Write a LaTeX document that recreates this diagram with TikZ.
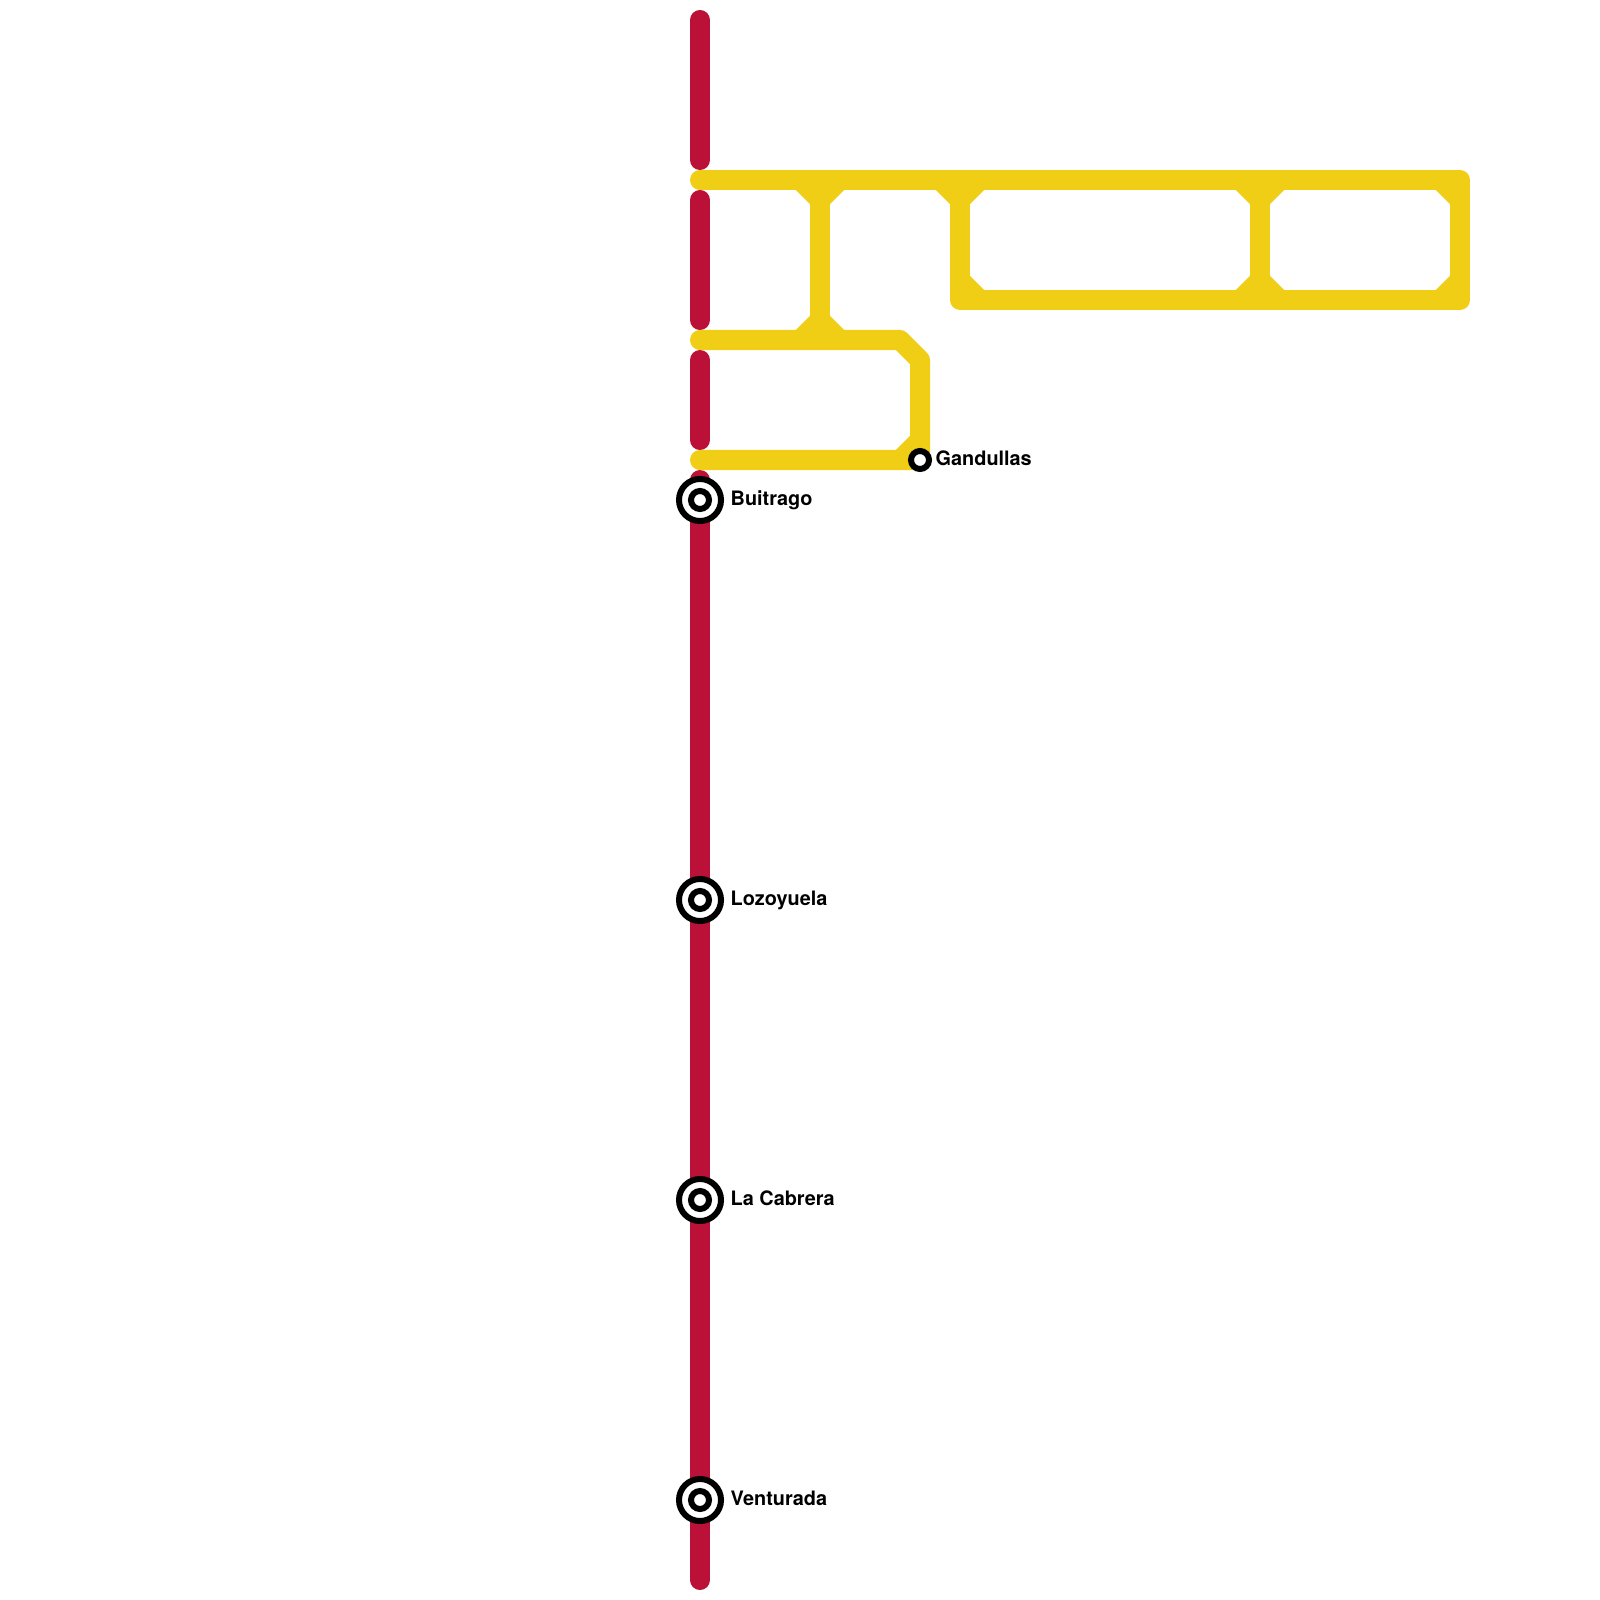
\documentclass[tikz,border=0pt]{standalone}
\usepackage{fontspec}
\setmainfont{TeX Gyre Heros}
\definecolor{linered}{HTML}{BB1037}
\definecolor{lineyellow}{HTML}{F0CE15}
\tikzset{
	redline/.style={line width=0.2cm, linered, line cap=round},
	yellowline/.style={line width=0.2cm, lineyellow, line cap=round, line join=round},
	stopring/.style={circle, draw=black, fill=white, line width=0.06cm, inner sep=0pt},
	bigstop/.style={stopring, minimum size=0.42cm},
	smallstop/.style={stopring, minimum size=0.18cm},
	stoplabel/.style={anchor=base west, inner sep=0pt, font=\bfseries\fontsize{5.65pt}{6pt}\selectfont}
}
\begin{document}
\begin{tikzpicture}[x=0.01cm, y=-0.01cm]
	\useasboundingbox (0,0) rectangle (1600,1600);
	% 红线
	\draw[redline] (700,20) -- (700,160);
	\draw[redline] (700,200) -- (700,320);
	\draw[redline] (700,360) -- (700,440);
	\draw[redline] (700,480) -- (700,1580);

	% 黄线
	\draw[yellowline] (700,180) -- (1460,180) -- (1460,300) -- (960,300) -- (960,180);
	\draw[yellowline] (820,180) -- (820,340);
	\draw[yellowline] (1260,180) -- (1260,300);
	\draw[yellowline] (700,340) -- (900,340) -- (920,360) -- (920,460) -- (700,460);

	% 斜角
	\draw[yellowline] (800,180) -- (820,200) -- (840,180);
	\draw[yellowline] (800,340) -- (820,320) -- (840,340);
	\draw[yellowline] (940,180) -- (960,200) -- (980,180);
	\draw[yellowline] (960,280) -- (980,300);
	\draw[yellowline] (1240,180) -- (1260,200) -- (1280,180);
	\draw[yellowline] (1240,300) -- (1260,280) -- (1280,300);
	\draw[yellowline] (1440,180) -- (1460,200);
	\draw[yellowline] (1440,300) -- (1460,280);
	\draw[yellowline] (900,460) -- (920,440);

	% 车站
	\node[bigstop] (buitrago) at (700,500) {};
	\node[smallstop] (buitragoin) at (buitrago) {};
	\node[bigstop] (lozoyuela) at (700,900) {};
	\node[smallstop] (lozoyuelain) at (lozoyuela) {};
	\node[bigstop] (cabrera) at (700,1200) {};
	\node[smallstop] (cabrerain) at (cabrera) {};
	\node[bigstop] (venturada) at (700,1500) {};
	\node[smallstop] (venturadain) at (venturada) {};
	\node[smallstop] (gandullas) at (920,460) {};

	% 站名
	\node[stoplabel] (buitragotxt) at (730,505) {Buitrago};
	\node[stoplabel] (lozoyuelatxt) at (730,905) {Lozoyuela};
	\node[stoplabel] (cabreratxt) at (730,1205) {La Cabrera};
	\node[stoplabel] (venturadatxt) at (730,1505) {Venturada};
	\node[stoplabel] (gandullastxt) at (935,465) {Gandullas};
\end{tikzpicture}
\end{document}
